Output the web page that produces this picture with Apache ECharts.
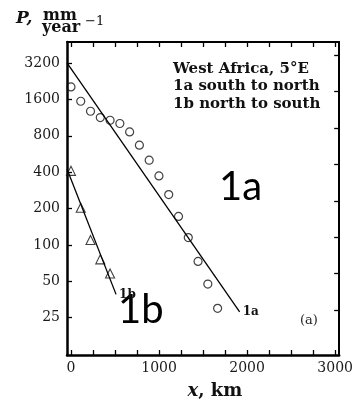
<!DOCTYPE html>
<html><head><meta charset="utf-8">
<script src="https://cdn.jsdelivr.net/npm/echarts@6/dist/echarts.min.js"></script>
<style>html,body{margin:0;padding:0;background:#fff}#c{width:356px;height:407px}</style>
</head><body><div id="c"></div>
<script>
// ---- data ----
const xTickLabels = [0, 1000, 2000, 3000];
const xMinorStep = 250;
const yTickLabels = [25, 50, 100, 200, 400, 800, 1600, 3200];

// series 1a (south to north), circles
const dist1a = [0, 111, 222, 333, 444, 555, 666, 777, 888, 999, 1110, 1221, 1332, 1443, 1554, 1665];
const precip1a = [2027, 1543, 1276, 1132, 1075, 1010, 861, 669, 502, 372, 261, 172, 115, 73, 47.5, 29.9];
// series 1b (north to south), triangles
const dist1b = [0, 111, 222, 333, 444];
const precip1b = [410, 203, 110, 76, 58];
// fitted exponential lines
const fit1aX = [-45, 1915];
const fit1aP = [3200, 28];
const fit1bX = [-45, 512];
const fit1bP = [425, 39];

// ---- helpers ----
const toY = p => Math.log2(p / 25);  // log scale (base 2) relative to 25
const xMin = -45, xMax = 3045;
const yMin = -1.024, yMax = 7.576;
const rightTickShift = 0.214;

const minorTicks = [];
for (let v = 0; v <= 3000; v += xMinorStep) minorTicks.push(v);
const yTickVals = yTickLabels.map(toY);
const yRightTicks = yTickVals.map(v => v + rightTickShift);

const pairs = (xs, ps) => xs.map((x, i) => [x, toY(ps[i])]);

const serif = 'DejaVu Serif';
const chart = echarts.init(document.getElementById('c'), null, {renderer: 'canvas'});
const axisLineStyle = w => ({show: true, onZero: false, lineStyle: {color: '#000', width: w}});

chart.setOption({
  animation: false,
  backgroundColor: '#fff',
  grid: {left: 67, right: 13, top: 42, bottom: 52},
  xAxis: [{
    type: 'value', min: xMin, max: xMax, position: 'bottom',
    axisLine: axisLineStyle(2.5),
    axisTick: {show: true, inside: true, length: 5, customValues: minorTicks, lineStyle: {color: '#000', width: 1.3}},
    axisLabel: {customValues: xTickLabels, fontFamily: serif, fontSize: 14, color: '#1a1a1a', margin: 6,
      formatter: v => String(v)},
    splitLine: {show: false}
  }, {
    type: 'value', min: xMin, max: xMax, position: 'top',
    axisLine: axisLineStyle(2),
    axisTick: {show: true, inside: true, length: 5, customValues: minorTicks, lineStyle: {color: '#000', width: 1.3}},
    axisLabel: {show: false},
    splitLine: {show: false}
  }],
  yAxis: [{
    type: 'value', min: yMin, max: yMax, position: 'left',
    axisLine: axisLineStyle(2.5),
    axisTick: {show: true, inside: true, length: 5, customValues: yTickVals, lineStyle: {color: '#000', width: 1.3}},
    axisLabel: {customValues: yTickVals, fontFamily: serif, fontSize: 14, color: '#1a1a1a', margin: 7,
      formatter: v => String(Math.round(25 * Math.pow(2, v)))},
    splitLine: {show: false}
  }, {
    type: 'value', min: yMin, max: yMax, position: 'right',
    axisLine: axisLineStyle(2),
    axisTick: {show: true, inside: true, length: 5, customValues: yRightTicks, lineStyle: {color: '#000', width: 1.3}},
    axisLabel: {show: false},
    splitLine: {show: false}
  }],
  series: [{
    type: 'line', name: 'fit1a', data: pairs(fit1aX, fit1aP), showSymbol: false, symbol: 'none',
    lineStyle: {color: '#000', width: 1.3}, silent: true,
    endLabel: {show: true, formatter: '1a', fontFamily: serif, fontWeight: 'bold', fontSize: 12, color: '#111', distance: 3}
  }, {
    type: 'line', name: 'fit1b', data: pairs(fit1bX, fit1bP), showSymbol: false, symbol: 'none',
    lineStyle: {color: '#000', width: 1.3}, silent: true,
    endLabel: {show: true, formatter: '1b', fontFamily: serif, fontWeight: 'bold', fontSize: 12, color: '#111', distance: 3}
  }, {
    type: 'scatter', name: '1a', data: pairs(dist1a, precip1a), symbol: 'circle', symbolSize: 8,
    itemStyle: {color: 'rgba(0,0,0,0)', borderColor: '#111', borderWidth: 1.2}
  }, {
    type: 'scatter', name: '1b', data: pairs(dist1b, precip1b), symbol: 'triangle', symbolSize: 9,
    itemStyle: {color: 'rgba(0,0,0,0)', borderColor: '#111', borderWidth: 1.1}
  }],
  graphic: [
    {type: 'text', x: 173, y: 60, style: {text: 'West Africa, 5°E\n1a south to north\n1b north to south',
      font: 'bold 15px "DejaVu Serif"', fill: '#111', lineHeight: 17.5, textAlign: 'left', textVerticalAlign: 'top'}},
    {type: 'text', x: 300, y: 321, style: {text: '(a)', font: '13px "DejaVu Serif"', fill: '#222', textAlign: 'left', textVerticalAlign: 'middle'}},
    {type: 'text', x: 219, y: 187, style: {text: '1a', font: '40px Lato', fill: '#000', textAlign: 'left', textVerticalAlign: 'middle'}},
    {type: 'text', x: 118, y: 310, style: {text: '1b', font: '40px Lato', fill: '#000', textAlign: 'left', textVerticalAlign: 'middle'}},
    {type: 'text', x: 16, y: 19, style: {text: 'P,', font: 'italic bold 17px "DejaVu Serif"', fill: '#111', textAlign: 'left', textVerticalAlign: 'middle'}},
    {type: 'text', x: 43, y: 16, style: {text: 'mm', font: 'bold 16px "DejaVu Serif"', fill: '#111', textAlign: 'left', textVerticalAlign: 'middle'}},
    {type: 'text', x: 42, y: 28, style: {text: 'year', font: 'bold 16px "DejaVu Serif"', fill: '#111', textAlign: 'left', textVerticalAlign: 'middle'}},
    {type: 'text', x: 85, y: 22, style: {text: '−1', font: '13px "DejaVu Serif"', fill: '#111', textAlign: 'left', textVerticalAlign: 'middle'}},
    {type: 'text', x: 215, y: 391, style: {text: '{i|x}{b|, km}', textAlign: 'center', textVerticalAlign: 'middle',
      rich: {i: {font: 'italic bold 18px "DejaVu Serif"', fill: '#111'}, b: {font: 'bold 18px "DejaVu Serif"', fill: '#111'}}}}
  ]
});
</script>
</body></html>
